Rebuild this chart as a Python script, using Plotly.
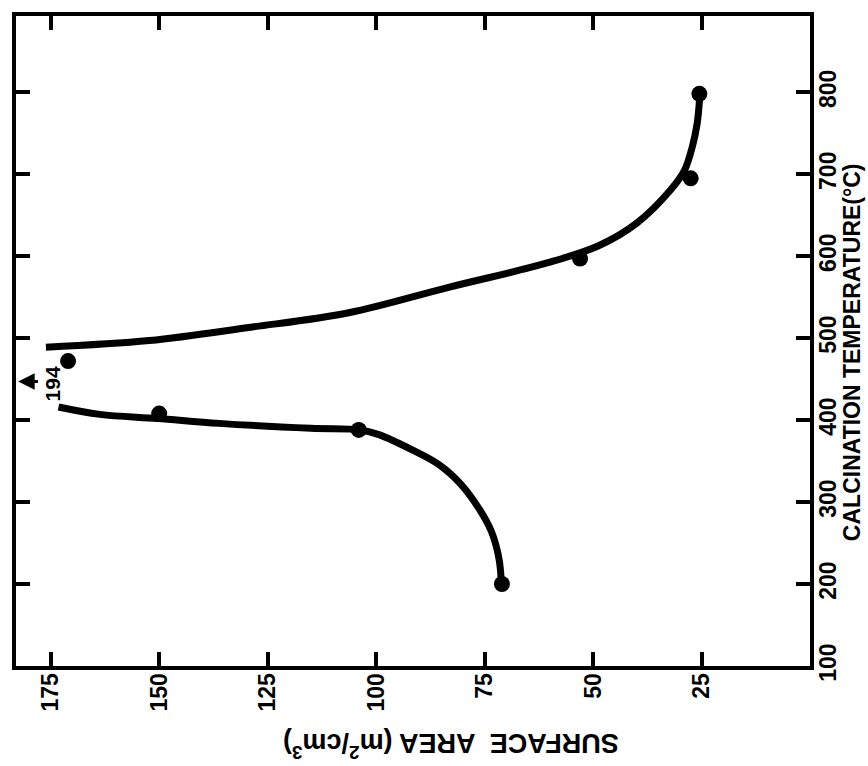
import plotly.graph_objects as go

# Measured surface areas (m2/cm3) vs. calcination temperature (degC)
temp_measured = [200, 388, 408, 472, 597, 695, 798]
area_measured = [71.0, 104.0, 150.0, 171.0, 53.0, 27.5, 25.5]

# Hand-drawn trend curve, lower branch (200 -> ~410 degC, out to the left edge)
lower_area = [71.2, 71.3, 71.9, 73.5, 76.4, 80.5, 85.6, 91.8, 99.2, 103.6, 115.0, 136.2, 150.4, 163.7, 173.2]
lower_temp = [198, 215, 237, 265, 293, 322, 346, 364, 382, 388, 390, 396, 402, 407, 416]

# Hand-drawn trend curve, upper branch (~490 -> 800 degC)
upper_area = [176.1, 152.3, 129.3, 106.3, 83.3, 60.4, 48.6, 40.0, 32.1, 28.9, 27.1, 26.0, 25.4]
upper_temp = [489, 497, 513, 531, 562, 592, 613, 640, 681, 705, 734, 762, 795]

area_ticks = [175, 150, 125, 100, 75, 50, 25]
temp_ticks = [100, 200, 300, 400, 500, 600, 700, 800]

FONT = "Liberation Sans Narrow, Liberation Sans, Arial, sans-serif"
TITLE_FONT = "Liberation Sans, Arial, sans-serif"
INK = "#000000"

fig = go.Figure()

for xs, ys in ((lower_area, lower_temp), (upper_area, upper_temp)):
    fig.add_trace(go.Scatter(
        x=xs, y=ys, mode="lines",
        line=dict(color=INK, width=7, shape="spline", smoothing=1.0),
        hoverinfo="skip", showlegend=False,
    ))

fig.add_trace(go.Scatter(
    x=area_measured, y=temp_measured, mode="markers",
    marker=dict(color=INK, size=16, line=dict(width=0)),
    showlegend=False,
))

tick_font = dict(family=FONT, size=23, color=INK, weight="bold")
axis_style = dict(
    showline=True, linecolor=INK, linewidth=4, mirror="allticks",
    ticks="inside", ticklen=14, tickwidth=4, tickcolor=INK,
    showgrid=False, zeroline=False, tickangle=-90, tickfont=tick_font,
    ticklabelstandoff=-6, layer="above traces",
)

fig.update_xaxes(range=[183, 0], tickmode="array", tickvals=area_ticks, **axis_style)
fig.update_yaxes(range=[100, 893], tickmode="array", tickvals=temp_ticks,
                 side="right", **axis_style)

# Off-scale value marker: 194 m2/cm3 near 450 degC
fig.add_annotation(
    x=182.5, y=447, ax=177.6, ay=447, axref="x", ayref="y",
    xref="x", yref="y", text="", showarrow=True,
    arrowhead=2, arrowsize=1.1, arrowwidth=3, arrowcolor=INK,
)
fig.add_annotation(
    x=174.6, y=444, xref="x", yref="y", text="194", showarrow=False,
    textangle=-90, font=dict(family=FONT, size=21, color=INK, weight="bold"),
)

# Axis titles
fig.add_annotation(
    x=0.547, y=-0.122, xref="paper", yref="paper",
    text="SURFACE  AREA (m<sup>2</sup>/cm<sup>3</sup>)", showarrow=False,
    textangle=180, xanchor="center", yanchor="middle",
    font=dict(family=TITLE_FONT, size=27, color=INK, weight="bold"),
)
fig.add_annotation(
    x=1.053, y=0.483, xref="paper", yref="paper",
    text="CALCINATION TEMPERATURE(°C)", showarrow=False,
    textangle=-90, xanchor="center", yanchor="middle",
    font=dict(family=TITLE_FONT, size=23, color=INK, weight="bold"),
)

fig.update_layout(
    width=868, height=766,
    margin=dict(l=16, r=58, t=12, b=100),
    paper_bgcolor="white", plot_bgcolor="white",
    showlegend=False,
)

fig.write_html("out.html")
